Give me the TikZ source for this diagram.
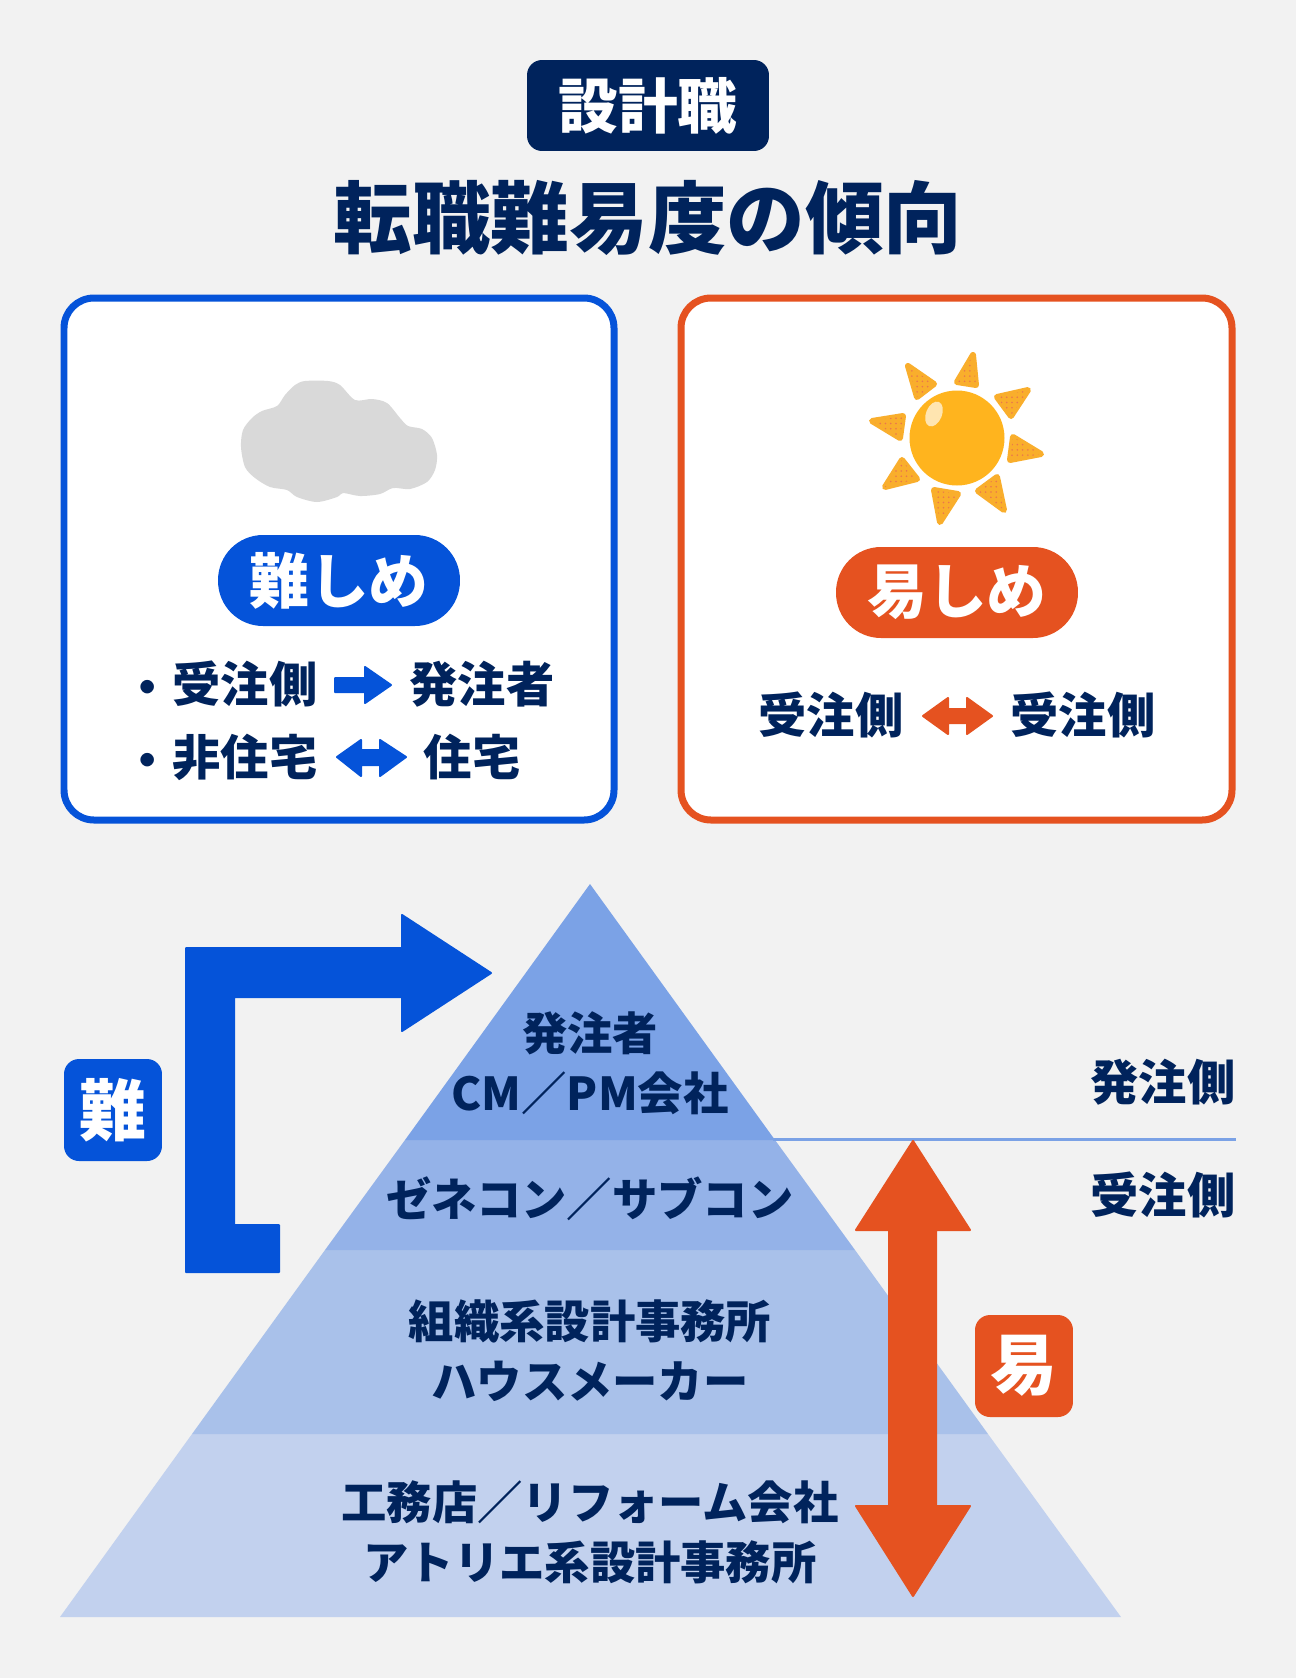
\documentclass[tikz,border=0pt]{standalone}
\usepackage{fontspec}
\usetikzlibrary{patterns}
\setmainfont{Noto Sans CJK JP}
\definecolor{navy}{HTML}{00235C}
\definecolor{bluemain}{HTML}{0553D9}
\definecolor{orangemain}{HTML}{E55220}
\definecolor{levelone}{HTML}{7BA2E6}
\definecolor{leveltwo}{HTML}{94B2E8}
\definecolor{levelthree}{HTML}{A9C1EA}
\definecolor{levelfour}{HTML}{C2D1EE}
\definecolor{sunbody}{HTML}{FFB41E}
\definecolor{sunray}{HTML}{F9AE2C}
\tikzset{
  badge/.style={fill=#1, rounded corners=0.3cm, text=white, font=\bfseries\fontsize{34pt}{34pt}\selectfont, inner sep=0pt, align=center},
  pill/.style={fill=#1, rounded corners=0.9cm, text=white, minimum width=4.84cm, minimum height=1.82cm, font=\bfseries\fontsize{34pt}{34pt}\selectfont, inner sep=0pt},
  panel/.style={draw=#1, fill=white, line width=0.14cm, rounded corners=0.6cm},
  arrowfill/.style={fill=#1, draw=#1, line width=0.04cm, line join=round},
  ray/.style={fill=sunray, draw=sunray, line width=0.12cm, line join=round, postaction={pattern=dots, pattern color=orangemain!80}},
  boxlabel/.style={text=navy, font=\bfseries\fontsize{27.5pt}{34pt}\selectfont, inner sep=0pt},
  pyrlabel/.style={text=navy, font=\bfseries\fontsize{25.8pt}{34pt}\selectfont, align=center, inner sep=0pt}
}

\begin{document}
\begin{tikzpicture}[x=0.02cm,y=-0.02cm]
\useasboundingbox (0,0) rectangle (1296,1678);
\fill [black!5] (0,0) rectangle (1296,1678);

% heading
\node [badge=navy, minimum width=4.84cm, minimum height=1.82cm] (jobbadge) at (648,105.5) {設計職};
\node [text=navy, font=\bfseries\fontsize{44.7pt}{44.7pt}\selectfont, inner sep=0pt] (heading) at (648,218) {転職難易度の傾向};

% panels
\draw [panel=bluemain] (64,298) rectangle (614,820);
\draw [panel=orangemain] (681,298) rectangle (1232,820);

% cloud
\fill [black!15] plot [smooth cycle, tension=0.5] coordinates {(241,447) (243,430) (252,418) (262,411) (277,406) (285,395) (295,385) (305,381) (328,381) (340,385) (355,400) (372,399) (387,403) (400,418) (408,426) (422,429) (432,438) (437,455) (435,470) (427,482) (410,489) (393,488) (380,494) (360,496) (343,493) (337,497) (317,502) (297,497) (287,490) (270,487) (255,478) (245,467)};

% sun
\fill [sunbody] (957,438) circle [radius=47.5];
\fill [white!65!sunbody, rotate around={-22:(934,414)}] (934,414) ellipse [x radius=8, y radius=13];
\draw [ray] (973,355) -- (957,382) -- (976,385) -- cycle;
\draw [ray] (908,366) -- (934,384) -- (917,397) -- cycle;
\draw [ray] (1028,390) -- (997,397) -- (1011,416) -- cycle;
\draw [ray] (872,421) -- (903,416) -- (900,438) -- cycle;
\draw [ray] (1041,454) -- (1013,437) -- (1010,460) -- cycle;
\draw [ray] (885,487) -- (902,460) -- (917,479) -- cycle;
\draw [ray] (940,522) -- (934,490) -- (958,494) -- cycle;
\draw [ray] (1004,510) -- (978,491) -- (997,477) -- cycle;

% panel contents
\node [pill=bluemain] (hardpill) at (339,580.5) {難しめ};
\node [pill=orangemain] (easypill) at (957,592.5) {易しめ};

\node [boxlabel] (bulletone) at (148,693) {・};
\node [boxlabel] (orderside) at (245,684) {受注側};
\node [boxlabel] (clientside) at (482,684) {発注者};
\draw [arrowfill=bluemain] (335,678) -- (365,678) -- (365,667) -- (391,685) -- (365,703) -- (365,692) -- (335,692) -- cycle;

\node [boxlabel] (bullettwo) at (148,766) {・};
\node [boxlabel] (nonhouse) at (245,757) {非住宅};
\node [boxlabel] (house) at (472,757) {住宅};
\draw [arrowfill=bluemain] (337,757) -- (361,740) -- (361,750) -- (380,750) -- (380,740) -- (406,757) -- (380,776) -- (380,765) -- (361,765) -- (361,776) -- cycle;

\node [boxlabel] (orderleft) at (831,715) {受注側};
\node [boxlabel] (orderright) at (1083,715) {受注側};
\draw [arrowfill=orangemain] (923,716) -- (948,698) -- (948,709) -- (967,709) -- (967,698) -- (992,716) -- (967,734) -- (967,723) -- (948,723) -- (948,734) -- cycle;

% pyramid
\fill [levelfour] (60,1617) -- (192,1434) -- (988,1434) -- (1121,1617) -- cycle;
\fill [levelthree] (192,1434) -- (325,1250) -- (855,1250) -- (988,1434) -- cycle;
\fill [leveltwo] (325,1250) -- (405,1140) -- (775,1140) -- (855,1250) -- cycle;
\fill [levelone] (405,1140) -- (590,884) -- (775,1140) -- cycle;

\node [pyrlabel] (topname) at (590,1063) {発注者\\CM／PM会社};
\node [pyrlabel] (secondname) at (590,1199) {ゼネコン／サブコン};
\node [pyrlabel] (thirdname) at (590,1351) {組織系設計事務所\\ハウスメーカー};
\node [pyrlabel] (fourthname) at (590,1532) {工務店／リフォーム会社\\アトリエ系設計事務所};

% divider
\coordinate (divleft) at (773,1139);
\coordinate (divright) at (1236,1139);
\draw [levelone, line width=0.06cm] (divleft) -- (divright);
\node [boxlabel] (upperside) at (1163,1082) {発注側};
\node [boxlabel] (lowerside) at (1163,1195) {受注側};

% big arrows
\draw [arrowfill=bluemain] (186,1272) -- (279,1272) -- (279,1225) -- (234,1225) -- (234,997) -- (402,997) -- (402,1031) -- (491,973) -- (402,915) -- (402,948) -- (186,948) -- cycle;
\draw [arrowfill=orangemain] (913,1141) -- (970,1230) -- (936,1230) -- (936,1506) -- (970,1506) -- (913,1596) -- (856,1506) -- (889,1506) -- (889,1230) -- (856,1230) -- cycle;

\node [badge=bluemain, minimum width=1.96cm, minimum height=2.04cm, font=\bfseries\fontsize{38pt}{38pt}\selectfont] (hardbadge) at (113,1110) {難};
\node [badge=orangemain, minimum width=1.96cm, minimum height=2.04cm, font=\bfseries\fontsize{38pt}{38pt}\selectfont] (easybadge) at (1024,1366) {易};

\end{tikzpicture}
\end{document}
